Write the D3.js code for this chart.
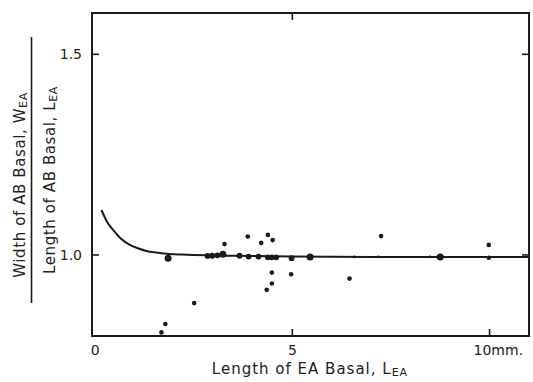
<!DOCTYPE html>
<html><head><meta charset="utf-8">
<script src="https://cdn.jsdelivr.net/npm/d3@7"></script>
<style>
html,body{margin:0;padding:0;background:#fff;}
svg{display:block;}
text{font-family:"DejaVu Sans","Liberation Sans",sans-serif;fill:#222;}
</style></head><body>
<svg id="c" width="533" height="382"></svg>
<script>
// Data
const pointX = [1.85,1.68,1.78,2.51,2.85,2.97,3.10,3.24,3.28,3.66,3.89,3.87,4.14,4.21,4.38,4.50,4.38,4.48,4.59,4.48,4.48,4.35,4.98,4.97,5.45,6.45,7.25,8.75,9.98,9.98,6.57,7.18,8.49];
const pointY = [0.992,0.807,0.828,0.880,0.9975,0.998,0.999,1.002,1.027,0.998,0.996,1.046,0.996,1.030,1.050,1.037,0.994,0.994,0.994,0.956,0.929,0.913,0.992,0.952,0.995,0.941,1.047,0.995,1.025,0.993,0.995,0.995,0.995];
const pointSize = ["L","S","S","S","M","M","M","L","S","M","M","S","M","S","S","S","M","M","M","S","S","S","M","S","L","S","S","L","S","S","T","T","T"];
const curveX = [0.16,0.30,0.46,0.65,0.88,1.10,1.30,1.55,1.81,2.20,2.80,3.50,5.00,7.00,9.00,11.0];
const curveY = [1.112,1.083,1.062,1.041,1.025,1.016,1.010,1.006,1.003,1.001,0.999,0.998,0.996,0.995,0.995,0.995];
const xTicks = [0,5,10];
const xTickLabels = ["0","5","10mm."];
const yTicks = [1.0,1.5];
const yTickLabels = ["1.0","1.5"];

const svg = d3.select("#c");
const L = 92, R = 529, T = 13, B = 336;
const x = d3.scaleLinear().domain([-0.08, 11.0]).range([L, R]);
const y = d3.scaleLinear().domain([0.798, 1.603]).range([B, T]);
const ink = "#1a1a1a";

// frame
svg.append("rect").attr("x", L).attr("y", T).attr("width", R - L).attr("height", B - T)
  .attr("fill", "none").attr("stroke", ink).attr("stroke-width", 2);

// inward ticks
const tl = 7;
svg.selectAll(".xtb").data([5,10]).enter().append("line")
  .attr("x1", d => x(d)).attr("x2", d => x(d)).attr("y1", B).attr("y2", B - tl)
  .attr("stroke", ink).attr("stroke-width", 1.6);
svg.selectAll(".xtt").data([5]).enter().append("line")
  .attr("x1", d => x(d)).attr("x2", d => x(d)).attr("y1", T).attr("y2", T + tl)
  .attr("stroke", ink).attr("stroke-width", 1.6);
svg.selectAll(".ytl").data(yTicks).enter().append("line")
  .attr("x1", L).attr("x2", L + tl).attr("y1", d => y(d)).attr("y2", d => y(d))
  .attr("stroke", ink).attr("stroke-width", 1.6);
svg.selectAll(".ytr").data(yTicks).enter().append("line")
  .attr("x1", R).attr("x2", R - tl).attr("y1", d => y(d)).attr("y2", d => y(d))
  .attr("stroke", ink).attr("stroke-width", 1.6);

// tick labels
svg.selectAll(".xl").data(xTicks).enter().append("text")
  .attr("x", (d, i) => i === 2 ? x(d) - 16 : x(d))
  .attr("y", 355)
  .attr("text-anchor", (d, i) => i === 2 ? "start" : "middle")
  .attr("font-size", 14)
  .text((d, i) => xTickLabels[i]);
svg.selectAll(".yl").data(yTicks).enter().append("text")
  .attr("x", 82).attr("y", d => y(d) + 5)
  .attr("text-anchor", "end").attr("font-size", 14)
  .text((d, i) => yTickLabels[i]);

// curve
const line = d3.line().x((d, i) => x(curveX[i])).y((d, i) => y(curveY[i])).curve(d3.curveMonotoneX);
svg.append("path").attr("d", line(curveX)).attr("fill", "none")
  .attr("stroke", ink).attr("stroke-width", 2);

// points
const rad = {L: 3.5, M: 2.9, S: 2.3, T: 1.4};
svg.selectAll(".pt").data(pointX).enter().append("circle")
  .attr("cx", (d) => x(d)).attr("cy", (d, i) => y(pointY[i]))
  .attr("r", (d, i) => rad[pointSize[i]]).attr("fill", ink);

// x-axis title
const xt = svg.append("text").attr("x", 310).attr("y", 374).attr("text-anchor", "middle")
  .attr("font-size", 15).attr("letter-spacing", 1.0);
xt.append("tspan").text("Length of  EA  Basal,  L");
xt.append("tspan").attr("font-size", 11).attr("dy", 2).text("EA");

// y-axis title (fraction)
const g = svg.append("g");
const t1 = g.append("text").attr("transform", "translate(25,185) rotate(-90)")
  .attr("text-anchor", "middle").attr("font-size", 15).attr("letter-spacing", 0.6);
t1.append("tspan").text("Width of  AB  Basal,  W");
t1.append("tspan").attr("font-size", 11).attr("dy", 2).text("EA");
g.append("line").attr("x1", 31.5).attr("x2", 31.5).attr("y1", 37).attr("y2", 303)
  .attr("stroke", ink).attr("stroke-width", 1.6);
const t2 = g.append("text").attr("transform", "translate(55,180) rotate(-90)")
  .attr("text-anchor", "middle").attr("font-size", 15).attr("letter-spacing", 0.6);
t2.append("tspan").text("Length of  AB  Basal,  L");
t2.append("tspan").attr("font-size", 11).attr("dy", 2).text("EA");
</script>
</body></html>
